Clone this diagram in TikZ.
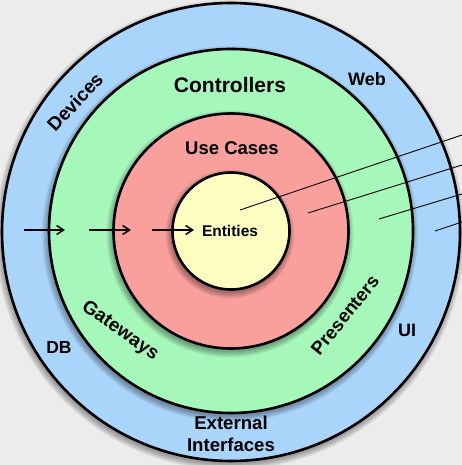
\documentclass[tikz,border=0pt]{standalone}
\usepackage{fontspec}
\setmainfont{Liberation Sans}
\usetikzlibrary{arrows.meta}
\definecolor{bgcol}{RGB}{236,236,236}
\definecolor{ringblue}{RGB}{170,213,250}
\definecolor{ringgreen}{RGB}{166,247,186}
\definecolor{ringred}{RGB}{250,160,156}
\definecolor{ringyellow}{RGB}{252,253,192}
\tikzset{
  ring/.style={circle, draw=black, line width=2.6pt, inner sep=0pt},
  lbl/.style={font=\bfseries, inner sep=0pt, align=center},
  flow/.style={line width=1.5pt, -{Straight Barb[length=7pt,width=9pt,line width=1.5pt]}},
  pointer/.style={line width=0.9pt},
}
\newcommand{\fsz}[1]{\fontsize{#1}{#1}\selectfont}
% soft shadow below a disc: centre x, centre y, radius
\newcommand{\discshadow}[3]{%
  \foreach \k in {1,...,7}{%
    \fill[black, opacity=0.055] (#1-1,#2-3) circle[radius=#3+\k-1];
  }%
}
\begin{document}
\begin{tikzpicture}[x=1pt,y=1pt]
  \fill[bgcol] (0,0) rectangle (462,465);
  \useasboundingbox (0,0) rectangle (462,465);
  \begin{scope}
    \clip (0,0) rectangle (462,465);
    % concentric layers, outermost first, each with its shadow
    \discshadow{231}{233}{229}
    \node[ring, fill=ringblue,   minimum size=458pt] (outer)    at (231,233) {};
    \discshadow{231}{234}{182}
    \node[ring, fill=ringgreen,  minimum size=364pt] (adapters) at (231,234) {};
    \discshadow{231}{234}{117.5}
    \node[ring, fill=ringred,    minimum size=235pt] (usecases) at (231,234) {};
    \discshadow{231}{234}{58.5}
    \node[ring, fill=ringyellow, minimum size=117pt] (entities) at (231,234) {};

    % labels of the layers
    \node[lbl, font=\bfseries\fsz{21}]   (tctrl) at (230,380) {Controllers};
    \node[lbl, font=\bfseries\fsz{18.5}] (tuc)   at (232,317) {Use Cases};
    \node[lbl, font=\bfseries\fsz{15.5}] (tent)  at (230,234) {Entities};
    \node[lbl, font=\bfseries\fsz{18}]   (tweb)  at (367,386) {Web};
    \node[lbl, font=\bfseries\fsz{18}]   (tui)   at (407,135) {UI};
    \node[lbl, font=\bfseries\fsz{17.5}] (tdb)   at (59,118)  {DB};
    \node[lbl, font=\bfseries\fsz{18.6}] (text)  at (231,31)
      {External\\[3.2pt]Interfaces};
    \node[lbl, font=\bfseries\fsz{19}, rotate=47]  (tdev)  at (75,363)  {Devices};
    \node[lbl, font=\bfseries\fsz{19}, rotate=-35] (tgate) at (120,134) {Gateways};
    \node[lbl, font=\bfseries\fsz{18.6}, rotate=51] (tpres) at (345,150) {Presenters};

    % dependency arrows pointing inwards
    \coordinate (a1s) at (24,235);  \coordinate (a1e) at (65,235);
    \coordinate (a2s) at (89,235);  \coordinate (a2e) at (131,235);
    \coordinate (a3s) at (152,235); \coordinate (a3e) at (194,235);
    \draw[flow] (a1s) -- (a1e);
    \draw[flow] (a2s) -- (a2e);
    \draw[flow] (a3s) -- (a3e);

    % pointer lines from the right margin into each layer
    \coordinate (p1a) at (240,255); \coordinate (p1b) at (462,330);
    \coordinate (p2a) at (308,252); \coordinate (p2b) at (462,300);
    \coordinate (p3a) at (379,246); \coordinate (p3b) at (462,271);
    \coordinate (p4a) at (435,234); \coordinate (p4b) at (462,243);
    \draw[pointer] (p1a) -- (p1b);
    \draw[pointer] (p2a) -- (p2b);
    \draw[pointer] (p3a) -- (p3b);
    \draw[pointer] (p4a) -- (p4b);
  \end{scope}
\end{tikzpicture}
\end{document}
